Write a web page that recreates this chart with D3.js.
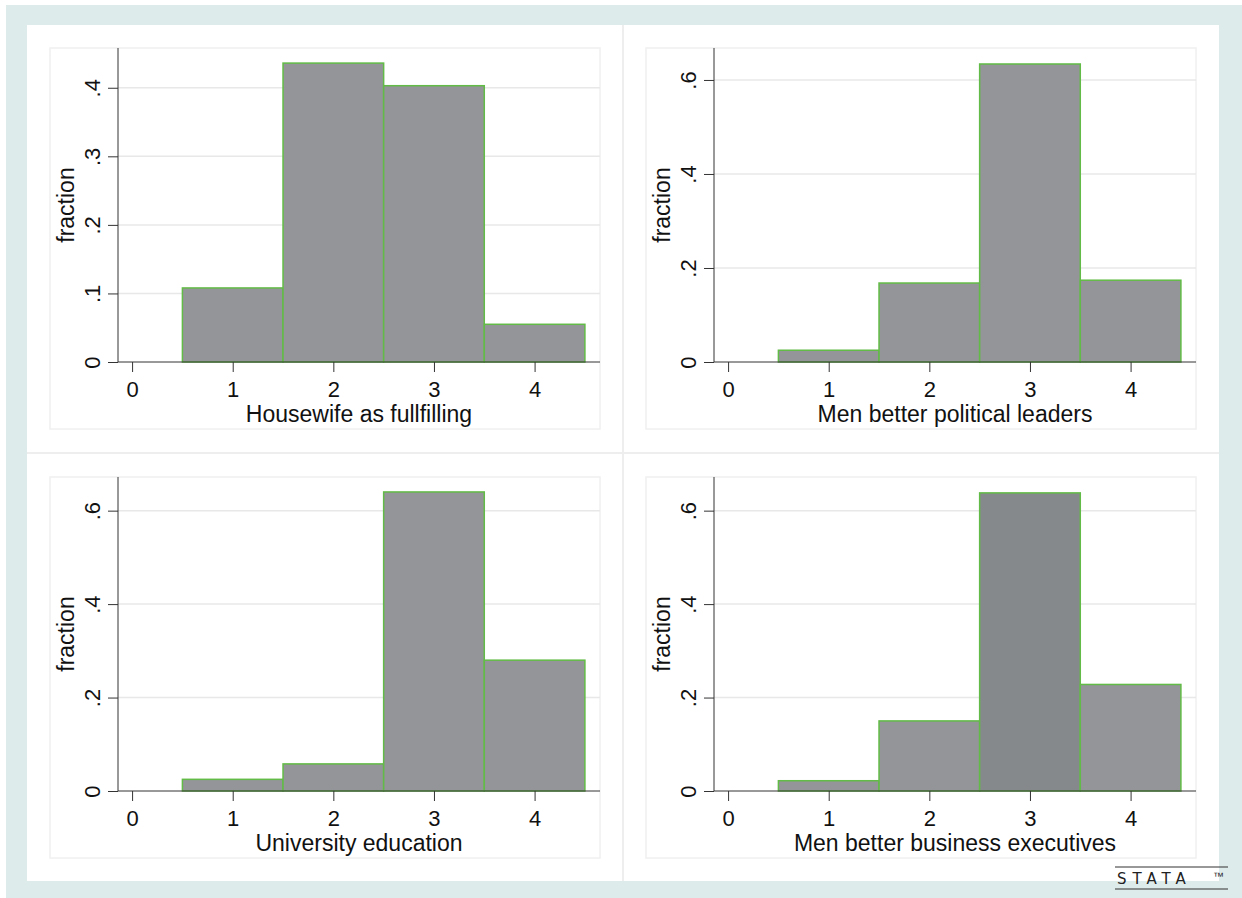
<!DOCTYPE html>
<html>
<head>
<meta charset="utf-8">
<script src="https://cdn.jsdelivr.net/npm/d3@7"></script>
<style>
  body { margin: 0; background: #fff; }
  svg { display: block; font-family: "Liberation Sans", Arial, sans-serif; }
</style>
</head>
<body>
<div id="chart"></div>
<script>
// histogram categories and fractions
let categories = [1, 2, 3, 4];
let xTicks = [0, 1, 2, 3, 4];

let housewife = [0.108, 0.436, 0.403, 0.055];
let political = [0.025, 0.168, 0.634, 0.174];
let university = [0.025, 0.058, 0.640, 0.280];
let business = [0.022, 0.150, 0.638, 0.228];

let yTicksSmall = [0, 0.1, 0.2, 0.3, 0.4];
let yTicksLarge = [0, 0.2, 0.4, 0.6];

let panels = [
    {title: "Housewife as fullfilling", values: housewife, ticks: yTicksSmall, yMax: 0.458, col: 0, row: 0},
    {title: "Men better political leaders", values: political, ticks: yTicksLarge, yMax: 0.668, col: 1, row: 0},
    {title: "University education", values: university, ticks: yTicksLarge, yMax: 0.672, col: 0, row: 1},
    {title: "Men better business executives", values: business, ticks: yTicksLarge, yMax: 0.672, col: 1, row: 1, darkBar: 2}
];

const width = 1242, height = 898;
const barFill = "#939598", barDark = "#86898b", barStroke = "#62bb46";
const tickFmt = d => d === 0 ? "0" : String(d).replace(/^0/, "");

const svg = d3.select("#chart").append("svg")
    .attr("width", width)
    .attr("height", height);

// outer graph region
svg.append("rect").attr("x", 6).attr("y", 5).attr("width", width - 6).attr("height", height - 5)
    .attr("fill", "#deebeb");
svg.append("rect").attr("x", 27).attr("y", 25).attr("width", 1192).attr("height", 856)
    .attr("fill", "#fff");

// dividers between panels
svg.append("line").attr("x1", 623).attr("x2", 623).attr("y1", 25).attr("y2", 881)
    .attr("stroke", "#eeeeee").attr("stroke-width", 2);
svg.append("line").attr("x1", 27).attr("x2", 1219).attr("y1", 453).attr("y2", 453)
    .attr("stroke", "#eeeeee").attr("stroke-width", 2);

const boxX = [50, 646], boxY = [48, 477];
const boxW = 550, boxH = 381;
const plotLeft = 68, plotH = 314;

panels.forEach(function (p) {
    let bx = boxX[p.col], by = boxY[p.row];
    let g = svg.append("g").attr("transform", `translate(${bx},${by})`);

    g.append("rect").attr("x", 0).attr("y", 0).attr("width", boxW).attr("height", boxH)
        .attr("fill", "#fff").attr("stroke", "#f0f0f0").attr("stroke-width", 1.5);

    let x = d3.scaleLinear().domain([-0.14, 4.65]).range([plotLeft, boxW]);
    let y = d3.scaleLinear().domain([0, p.yMax]).range([plotH, 0]);

    // grid lines
    g.append("g").selectAll("line")
        .data(p.ticks.slice(1))
        .join("line")
        .attr("x1", plotLeft).attr("x2", boxW)
        .attr("y1", d => y(d)).attr("y2", d => y(d))
        .attr("stroke", "#e8e8e8").attr("stroke-width", 1.5);

    // bars
    g.append("g").selectAll("rect")
        .data(categories)
        .join("rect")
        .attr("x", d => x(d - 0.5))
        .attr("y", (d, i) => y(p.values[i]))
        .attr("width", d => x(d + 0.5) - x(d - 0.5))
        .attr("height", (d, i) => y(0) - y(p.values[i]))
        .attr("fill", (d, i) => i === p.darkBar ? barDark : barFill)
        .attr("stroke", barStroke)
        .attr("stroke-width", 1.5);

    // y axis
    let yAxis = g.append("g").attr("transform", `translate(${plotLeft},0)`)
        .call(d3.axisLeft(y).tickValues(p.ticks).tickFormat(tickFmt).tickSize(10).tickSizeOuter(0));
    yAxis.select(".domain").attr("stroke", "#333").attr("d", `M0,0V${plotH}`);
    yAxis.selectAll(".tick line").attr("stroke", "#333");
    yAxis.selectAll(".tick text")
        .attr("transform", "rotate(-90)")
        .attr("x", 0).attr("y", -18).attr("dy", 0)
        .attr("text-anchor", "middle")
        .attr("font-size", 22).attr("fill", "#111");

    // x axis
    let xAxis = g.append("g").attr("transform", `translate(0,${plotH})`)
        .call(d3.axisBottom(x).tickValues(xTicks).tickFormat(d3.format("d")).tickSize(10).tickSizeOuter(0));
    xAxis.select(".domain").attr("stroke", "#333").attr("d", `M${plotLeft},0H${boxW}`);
    xAxis.selectAll(".tick line").attr("stroke", "#333");
    xAxis.selectAll(".tick text")
        .attr("y", 35).attr("dy", 0)
        .attr("font-size", 22).attr("fill", "#111");

    // titles
    g.append("text")
        .attr("transform", `translate(24,${plotH / 2}) rotate(-90)`)
        .attr("text-anchor", "middle")
        .attr("font-size", 23).attr("fill", "#111")
        .text("fraction");
    g.append("text")
        .attr("x", (plotLeft + boxW) / 2)
        .attr("y", plotH + 60)
        .attr("text-anchor", "middle")
        .attr("font-size", 23).attr("fill", "#111")
        .text(p.title);
});

// stata logo
let logo = svg.append("g").attr("transform", "translate(1115,0)");
logo.append("line").attr("x1", 0).attr("x2", 113).attr("y1", 867).attr("y2", 867)
    .attr("stroke", "#333").attr("stroke-width", 1.2);
logo.append("line").attr("x1", 0).attr("x2", 113).attr("y1", 889).attr("y2", 889)
    .attr("stroke", "#333").attr("stroke-width", 1.2);
logo.append("text").attr("x", 2).attr("y", 884)
    .attr("font-size", 15).attr("letter-spacing", 6).attr("fill", "#222")
    .attr("font-family", "'DejaVu Sans', sans-serif")
    .text("STATA");
logo.append("text").attr("x", 98).attr("y", 880)
    .attr("font-size", 11).attr("fill", "#222")
    .text("™");
</script>
</body>
</html>
